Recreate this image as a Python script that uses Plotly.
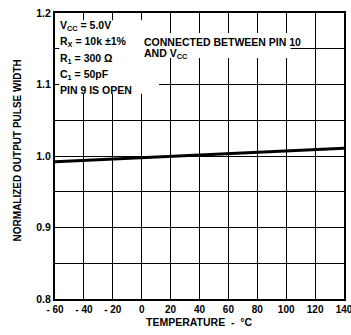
import plotly.graph_objects as go

temps = [-60, -40, -20, 0, 20, 40, 60, 80, 100, 120, 140]
width = [0.992, 0.994, 0.996, 0.998, 1.000, 1.002, 1.004, 1.006, 1.008, 1.0095, 1.011]

x_ticks = [-60, -40, -20, 0, 20, 40, 60, 80, 100, 120, 140]
x_labels = ["- 60", "- 40", "- 20", "0", "20", "40", "60", "80", "100", "120", "140"]
y_ticks = [0.8, 0.9, 1.0, 1.1, 1.2]
y_labels = ["0.8", "0.9", "1.0", "1.1", "1.2"]

FONT = "Liberation Sans Narrow, Arial Narrow, sans-serif"

fig = go.Figure()

# white masks behind the legend text (grid interrupted there)
fig.add_shape(type="rect", xref="x", yref="y", x0=-57, x1=12, y0=1.087, y1=1.19,
              fillcolor="white", line=dict(width=0), layer="above")
fig.add_shape(type="rect", xref="x", yref="y", x0=-1, x1=103, y0=1.137, y1=1.172,
              fillcolor="white", line=dict(width=0), layer="above")

fig.add_trace(go.Scatter(x=temps, y=width, mode="lines",
                         line=dict(color="black", width=3), hoverinfo="skip"))

annos = [
    (-58, 1.182, "<b>V<sub>CC</sub> = 5.0V</b>"),
    (-58, 1.159, "<b>R<sub>X</sub> = 10k ±1%</b>"),
    (0, 1.159, "<b>CONNECTED BETWEEN PIN 10</b>"),
    (-58, 1.136, "<b>R<sub>1</sub> = 300 Ω</b>"),
    (-58, 1.113, "<b>C<sub>1</sub> = 50pF</b>"),
    (-58, 1.092, "<b>PIN 9 IS OPEN</b>"),
    (0, 1.143, "<b>AND V<sub>CC</sub></b>"),
]
for x, y, t in annos:
    fig.add_annotation(x=x, y=y, xref="x", yref="y", text=t, showarrow=False,
                       xanchor="left", yanchor="middle",
                       font=dict(family=FONT, size=10.5, color="black"))

# axis titles
fig.add_annotation(x=0.50, y=-0.080, xref="paper", yref="paper",
                   text="<b>TEMPERATURE  -  °C</b>", showarrow=False,
                   xanchor="center", yanchor="middle",
                   font=dict(family=FONT, size=10.5, color="black"))
fig.add_annotation(x=-0.131, y=0.52, xref="paper", yref="paper",
                   text="<b>NORMALIZED OUTPUT PULSE WIDTH</b>", showarrow=False,
                   textangle=-90, xanchor="center", yanchor="middle",
                   font=dict(family=FONT, size=10, color="black"))

fig.update_layout(
    width=351, height=335,
    margin=dict(l=55, r=7, t=13, b=36),
    paper_bgcolor="white", plot_bgcolor="white",
    showlegend=False,
    font=dict(family=FONT, size=11, color="black"),
    xaxis=dict(range=[-60, 140], tickvals=x_ticks,
               ticktext=["<b>%s</b>" % s for s in x_labels],
               showgrid=True, gridcolor="black", gridwidth=1,
               showline=True, linecolor="black", linewidth=2, mirror=True,
               ticks="", zeroline=False, ticklabeloverflow="allow",
               automargin=False,
               tickfont=dict(family=FONT, size=10, color="black")),
    yaxis=dict(range=[0.8, 1.2], tickvals=y_ticks,
               ticktext=["<b>%s</b>" % s for s in y_labels],
               showgrid=True, gridcolor="black", gridwidth=1,
               minor=dict(dtick=0.05, showgrid=True, gridcolor="black", gridwidth=1),
               showline=True, linecolor="black", linewidth=2, mirror=True,
               ticks="", zeroline=False, automargin=False,
               tickfont=dict(family=FONT, size=10.5, color="black")),
)

fig.write_html("out.html", config={"displayModeBar": False},
               post_script="document.body.style.margin='0';document.body.style.overflow='hidden';")
